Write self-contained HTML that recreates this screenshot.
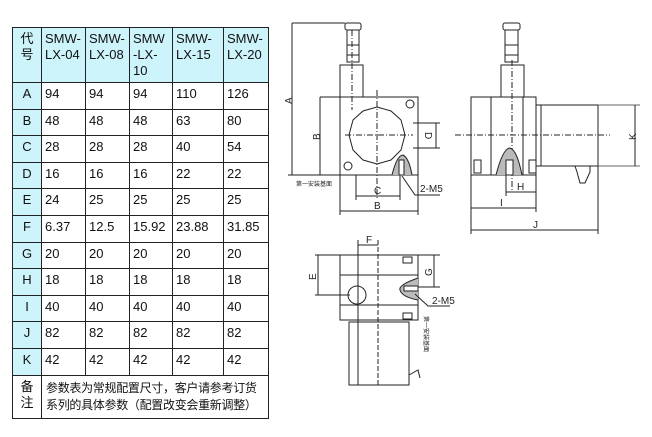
<!DOCTYPE html>
<html><head><meta charset="utf-8"><style>
html,body{margin:0;padding:0;background:#fff;width:652px;height:437px;overflow:hidden}
table{position:absolute;left:12px;top:27px;border-collapse:collapse;table-layout:fixed;font-family:"Liberation Sans","Noto Sans CJK SC",sans-serif;font-size:13px;color:#111}
td{border:1.5px solid #222;vertical-align:top;padding:3px 0 0 3px;height:23px;box-sizing:border-box;line-height:16px}
tr.r td{height:26.6px}
td.h{background:#cdf3fb}
td.k{background:#cdf3fb;text-align:center;padding-left:0}
td.rm{font-size:12px;line-height:17px;padding:4px 0 0 4px;letter-spacing:-0.3px;white-space:nowrap}
svg{position:absolute;left:0;top:0}
</style></head><body>
<table>
<colgroup><col style="width:29px"><col style="width:44px"><col style="width:44px"><col style="width:43px"><col style="width:51px"><col style="width:45px"></colgroup>
<tr style="height:55px"><td class="h" style="height:55px;text-align:center;padding-left:0">代<br>号</td><td class="h">SMW-<br>LX-04</td><td class="h">SMW-<br>LX-08</td><td class="h">SMW<br>-LX-<br>10</td><td class="h">SMW-<br>LX-15</td><td class="h">SMW-<br>LX-20</td></tr>
<tr class="r"><td class="k">A</td><td>94</td><td>94</td><td>94</td><td>110</td><td>126</td></tr>
<tr class="r"><td class="k">B</td><td>48</td><td>48</td><td>48</td><td>63</td><td>80</td></tr>
<tr class="r"><td class="k">C</td><td>28</td><td>28</td><td>28</td><td>40</td><td>54</td></tr>
<tr class="r"><td class="k">D</td><td>16</td><td>16</td><td>16</td><td>22</td><td>22</td></tr>
<tr class="r"><td class="k">E</td><td>24</td><td>25</td><td>25</td><td>25</td><td>25</td></tr>
<tr class="r"><td class="k">F</td><td>6.37</td><td>12.5</td><td>15.92</td><td>23.88</td><td>31.85</td></tr>
<tr class="r"><td class="k">G</td><td>20</td><td>20</td><td>20</td><td>20</td><td>20</td></tr>
<tr class="r"><td class="k">H</td><td>18</td><td>18</td><td>18</td><td>18</td><td>18</td></tr>
<tr class="r"><td class="k">I</td><td>40</td><td>40</td><td>40</td><td>40</td><td>40</td></tr>
<tr class="r"><td class="k">J</td><td>82</td><td>82</td><td>82</td><td>82</td><td>82</td></tr>
<tr class="r"><td class="k">K</td><td>42</td><td>42</td><td>42</td><td>42</td><td>42</td></tr>
<tr><td style="height:43px;text-align:center;padding-left:0">备<br>注</td><td colspan="5" class="rm" style="height:43px">参数表为常规配置尺寸，客户请参考订货<br>系列的具体参数（配置改变会重新调整）</td></tr>
</table>
<svg width="652" height="437" viewBox="0 0 652 437" font-family="Liberation Sans, sans-serif" font-size="10" fill="none" stroke="#222" stroke-width="1">
<!-- Drawing 1 -->
<rect x="345" y="23" width="16" height="7" rx="2"/>
<rect x="347" y="30" width="12" height="32"/>
<line x1="347" y1="45" x2="359" y2="45"/><line x1="347" y1="55" x2="359" y2="55"/>
<rect x="340" y="65" width="23" height="32"/>
<rect x="340" y="97" width="78" height="78"/>
<polygon points="377,107 391,111 401,120 405,135 401,150 391,160 377,164 363,160 353,150 349,135 353,120 363,111"/>
<line x1="345" y1="135" x2="413" y2="135" stroke-dasharray="6,2,1,2"/>
<line x1="377" y1="90" x2="377" y2="200" stroke-dasharray="6,2,1,2"/>
<line x1="352" y1="30" x2="352" y2="110" stroke-dasharray="6,2,1,2"/>
<circle cx="410" cy="104" r="4"/><circle cx="348" cy="166" r="4"/>
<path d="M392,175 Q397,155 403,155 Q409,158 412,175" fill="#bbb"/>
<rect x="399" y="160" width="5" height="15" fill="#fff"/>
<line x1="292" y1="23" x2="345" y2="23"/><line x1="292" y1="23" x2="292" y2="175"/>
<line x1="288" y1="175" x2="340" y2="175"/>
<line x1="320" y1="97" x2="340" y2="97"/><line x1="320" y1="97" x2="320" y2="175"/>
<line x1="413" y1="123" x2="440" y2="123"/><line x1="413" y1="148" x2="440" y2="148"/><line x1="436" y1="123" x2="436" y2="148"/>
<line x1="356" y1="175" x2="356" y2="200"/><line x1="400" y1="175" x2="400" y2="200"/><line x1="356" y1="196" x2="400" y2="196"/>
<line x1="340" y1="175" x2="340" y2="215"/><line x1="418" y1="175" x2="418" y2="215"/><line x1="340" y1="211" x2="418" y2="211"/>
<path d="M402,176 L415,195 L440,195"/>
<!-- Drawing 2 -->
<rect x="503" y="23" width="17" height="7" rx="2"/>
<rect x="505" y="30" width="13" height="32"/>
<line x1="505" y1="45" x2="518" y2="45"/><line x1="505" y1="55" x2="518" y2="55"/>
<rect x="501" y="65" width="23" height="32"/>
<rect x="471" y="97" width="65" height="78"/>
<line x1="491" y1="97" x2="491" y2="175"/><line x1="523" y1="97" x2="523" y2="175"/>
<rect x="536" y="105" width="5" height="61"/>
<rect x="541" y="105" width="57" height="61"/>
<line x1="598" y1="105" x2="640" y2="105" stroke="#666"/><line x1="598" y1="166" x2="640" y2="166" stroke="#666"/><line x1="635" y1="105" x2="635" y2="166"/>
<line x1="455" y1="135" x2="610" y2="135" stroke-dasharray="6,2,1,2"/>
<line x1="512" y1="60" x2="512" y2="190" stroke-dasharray="6,2,1,2"/>
<path d="M496,175 Q503,148 510,148 Q517,150 522,175" fill="#bbb"/>
<rect x="506" y="160" width="7" height="15" fill="#fff"/>
<rect x="474" y="160" width="7" height="13"/><rect x="529" y="160" width="7" height="13"/>
<path d="M575,166 L590,166 L590,172 L585,183 L580,183 L577,172 Z"/>
<line x1="506" y1="175" x2="506" y2="196"/><line x1="536" y1="175" x2="536" y2="212"/><line x1="506" y1="192" x2="536" y2="192"/>
<line x1="471" y1="175" x2="471" y2="234"/><line x1="471" y1="208" x2="536" y2="208"/>
<line x1="598" y1="166" x2="598" y2="234"/><line x1="471" y1="230" x2="598" y2="230"/>
<!-- Drawing 3 -->
<rect x="340" y="255" width="78" height="65"/>
<line x1="340" y1="275" x2="418" y2="275"/><line x1="340" y1="305" x2="418" y2="305"/>
<rect x="349" y="322" width="60" height="63"/>
<line x1="340" y1="320" x2="418" y2="320"/>
<circle cx="357" cy="295" r="9"/>
<line x1="358" y1="240" x2="358" y2="385"/><line x1="378" y1="240" x2="378" y2="385" stroke-dasharray="5,2"/>
<line x1="358" y1="245" x2="378" y2="245"/>
<line x1="315" y1="255" x2="340" y2="255"/><line x1="315" y1="295" x2="350" y2="295"/><line x1="318" y1="255" x2="318" y2="295"/>
<line x1="418" y1="255" x2="440" y2="255"/><line x1="418" y1="287" x2="440" y2="287"/><line x1="434" y1="255" x2="434" y2="287"/>
<path d="M418,278 Q398,285 400,290 Q402,297 418,300" fill="#bbb"/>
<rect x="404" y="286" width="14" height="5" fill="#fff"/>
<rect x="403" y="257" width="9" height="6"/><rect x="403" y="313" width="9" height="6"/>
<path d="M415,294 L428,306 L450,306"/>
<path d="M409,375 L418,370 L420,378"/>
</svg>
<svg width="652" height="437" viewBox="0 0 652 437" font-family="Liberation Sans, sans-serif" font-size="10" fill="#222">
<text x="285" y="103" transform="rotate(-90 289 100)">A</text>
<text x="313" y="139" transform="rotate(-90 317 136)">B</text>
<text x="424" y="139" transform="rotate(90 428 136)">D</text>
<text x="374" y="194">C</text>
<text x="374" y="209">B</text>
<text x="420" y="192">2-M5</text>
<text x="296" y="186" font-size="6" font-family="Noto Sans CJK SC, sans-serif">第一安装基面</text>
<text x="629" y="139" transform="rotate(-90 633 136)">K</text>
<text x="517" y="190">H</text>
<text x="500" y="206">I</text>
<text x="533" y="228">J</text>
<text x="366" y="243">F</text>
<text x="309" y="279" transform="rotate(-90 313 276)">E</text>
<text x="425" y="275" transform="rotate(-90 429 272)">G</text>
<text x="432" y="304">2-M5</text>
<text x="420" y="320" font-size="6" transform="rotate(90 424 320)" font-family="Noto Sans CJK SC, sans-serif">第一安装基面</text>
</svg>
</body></html>
